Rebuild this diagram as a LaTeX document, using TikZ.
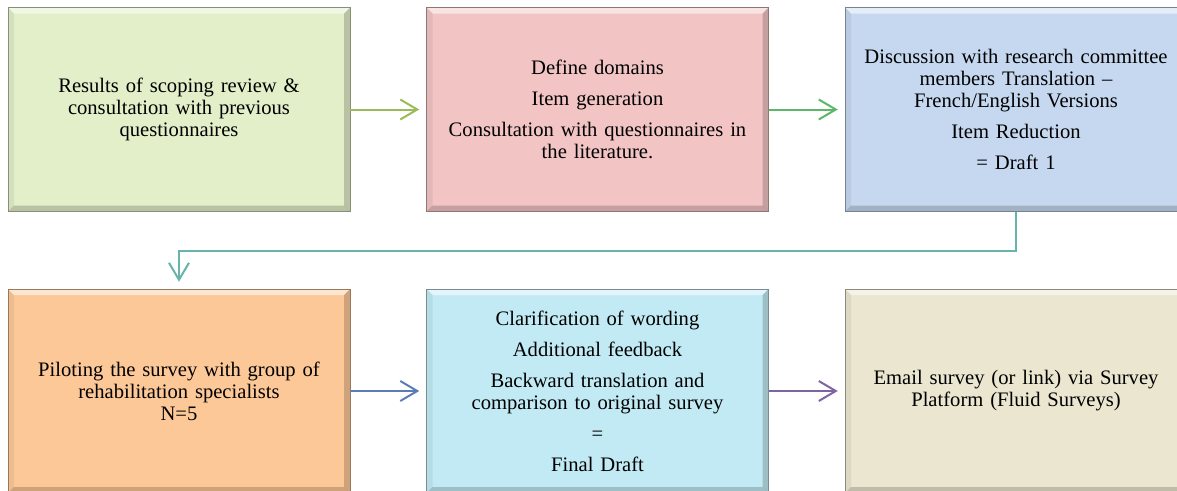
\documentclass[tikz,border=0pt]{standalone}
\usepackage{fontspec}
\setmainfont{Liberation Serif}
\usetikzlibrary{arrows.meta}

\tikzset{
  stagebox/.style={fill=#1, draw=#1!60!black, line width=0.5pt,
    minimum width=342pt, minimum height=204pt, inner sep=0pt,
    text width=334pt, align=center,
    path picture={
      \coordinate (nw) at (path picture bounding box.north west);
      \coordinate (ne) at (path picture bounding box.north east);
      \coordinate (sw) at (path picture bounding box.south west);
      \coordinate (se) at (path picture bounding box.south east);
      \fill[white, opacity=.55] (nw) -- (ne) -- ([shift={(-6pt,-6pt)}]ne)
        -- ([shift={(6pt,-6pt)}]nw) -- cycle;
      \fill[black, opacity=.18] (sw) -- (se) -- ([shift={(-6pt,6pt)}]se)
        -- ([shift={(6pt,6pt)}]sw) -- cycle;
      \fill[black, opacity=.06] (nw) -- ([shift={(6pt,-6pt)}]nw)
        -- ([shift={(6pt,6pt)}]sw) -- (sw) -- cycle;
      \fill[black, opacity=.18] (ne) -- ([shift={(-6pt,-6pt)}]ne)
        -- ([shift={(-6pt,6pt)}]se) -- (se) -- cycle;
    }},
  flow/.style={-{Straight Barb[length=17pt,width=20pt]}, line width=2pt,
    shorten >=7pt},
}

\begin{document}
\begin{tikzpicture}[x=1pt, y=-1pt, font=\fontsize{20.6}{22}\selectfont]

\definecolor{cResults}{RGB}{226,239,201}
\definecolor{cDefine}{RGB}{242,196,196}
\definecolor{cDiscuss}{RGB}{198,216,240}
\definecolor{cPilot}{RGB}{252,200,152}
\definecolor{cClarify}{RGB}{194,234,244}
\definecolor{cEmail}{RGB}{234,230,208}
\definecolor{cGoA}{RGB}{155,187,89}
\definecolor{cGoB}{RGB}{92,184,104}
\definecolor{cLoop}{RGB}{102,180,170}
\definecolor{cGoC}{RGB}{92,124,184}
\definecolor{cGoD}{RGB}{128,100,162}

\useasboundingbox (0,0) rectangle (1177,490);
\clip (0,0) rectangle (1177,490);

%% ---------- first row ----------
\node[stagebox=cResults] (results) at (179,109.5)
  {Results of scoping review \&\\ consultation with previous\\ questionnaires};
\node[stagebox=cDefine] (define) at (597.5,109.5)
  {Define domains\\[9pt] Item generation\\[9pt]
   Consultation with questionnaires in\\ the literature.};
\node[stagebox=cDiscuss] (discuss) at (1016,109.5)
  {Discussion with research committee\\ members Translation --\\
   French/English Versions\\[9pt] Item Reduction\\[9pt] = Draft 1};

%% ---------- second row ----------
\node[stagebox=cPilot] (pilot) at (179,391)
  {Piloting the survey with group of\\ rehabilitation specialists\\ N=5};
\node[stagebox=cClarify] (clarify) at (597.5,391)
  {Clarification of wording\\[9pt] Additional feedback\\[9pt]
   Backward translation and\\ comparison to original survey\\[9pt] =\\[9pt]
   Final Draft};
\node[stagebox=cEmail] (email) at (1016,391)
  {Email survey (or link) via Survey\\ Platform (Fluid Surveys)};

%% ---------- arrows ----------
\foreach \a/\b/\c in {results/define/cGoA, define/discuss/cGoB,
                      pilot/clarify/cGoC, clarify/email/cGoD}
  \draw[flow, draw=\c] (\a) -- (\b);

\draw[flow, draw=cLoop] (discuss.south) -- ++(0,39) -| (pilot.north);

\end{tikzpicture}
\end{document}
